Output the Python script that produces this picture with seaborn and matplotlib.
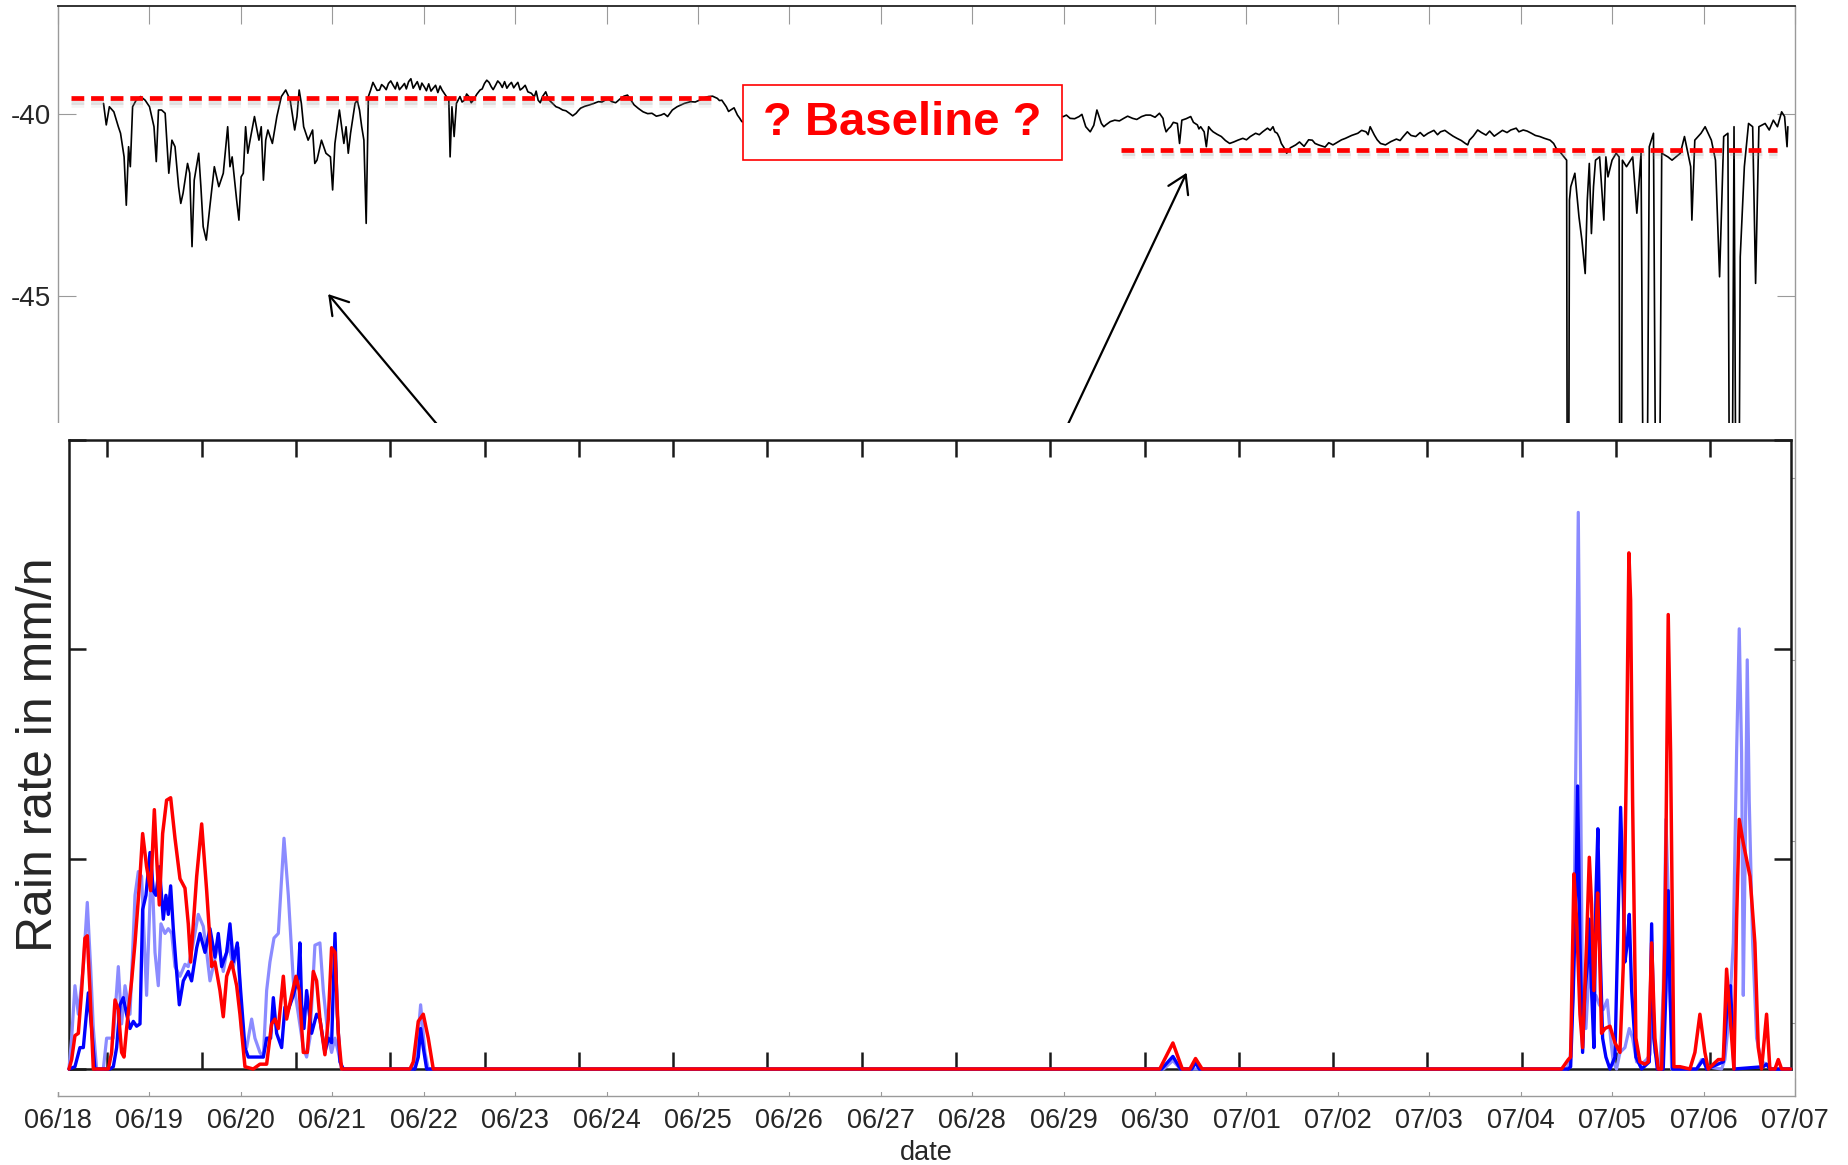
import numpy as np
import pandas as pd
import matplotlib
matplotlib.use("Agg")
import matplotlib.pyplot as plt
import matplotlib.patheffects as pe
from matplotlib.patches import Rectangle
import seaborn as sns

sns.set_style("white")
plt.rcParams["font.family"] = ["Liberation Sans", "DejaVu Sans"]

# ---------------- data ----------------
DATE_LABELS = ["06/18", "06/19", "06/20", "06/21", "06/22", "06/23", "06/24", "06/25",
               "06/26", "06/27", "06/28", "06/29", "06/30", "07/01", "07/02", "07/03",
               "07/04", "07/05", "07/06", "07/07"]

# received signal level (days since 06/18, dB)
SIGNAL_T = [
    0.498, 0.528, 0.562, 0.611, 0.660, 0.684, 0.723, 0.747, 0.772, 0.791, 0.816, 0.855,
    0.904, 0.953, 1.001, 1.050, 1.075, 1.099, 1.133, 1.172, 1.212, 1.246, 1.280, 1.319,
    1.343, 1.368, 1.417, 1.441, 1.466, 1.490, 1.539, 1.563, 1.588, 1.622, 1.661, 1.710,
    1.759, 1.808, 1.856, 1.881, 1.905, 1.954, 1.979, 2.003, 2.027, 2.052, 2.076, 2.101,
    2.149, 2.198, 2.223, 2.247, 2.272, 2.296, 2.345, 2.394, 2.443, 2.491, 2.540, 2.589,
    2.614, 2.638, 2.662, 2.687, 2.736, 2.785, 2.809, 2.833, 2.882, 2.931, 2.980, 3.004,
    3.029, 3.078, 3.127, 3.151, 3.175, 3.200, 3.249, 3.273, 3.298, 3.322, 3.346, 3.371,
    3.395, 3.420, 3.469, 3.517, 3.566, 3.615, 3.664, 3.762, 3.835, 3.908, 4.006, 4.104,
    4.201, 4.250, 4.275, 4.289, 4.309, 4.333, 4.358, 4.397, 4.446, 4.494, 4.543, 4.617,
    4.665, 4.690, 4.739, 4.788, 4.836, 4.934, 5.007, 5.081, 5.178, 5.252, 5.300, 5.335,
    5.374, 5.447, 5.520, 5.594, 5.667, 5.716, 5.813, 5.911, 5.984, 6.058, 6.155, 6.229,
    6.302, 6.400, 6.497, 6.595, 6.668, 6.772, 6.919, 7.016, 7.114, 7.212, 7.261, 7.310,
    7.358, 7.432, 7.480, 7.800, 8.300, 8.800, 9.300, 9.800, 10.300, 10.800,
    10.998, 11.071, 11.169, 11.242, 11.291, 11.364, 11.413, 11.462, 11.559, 11.657,
    11.755, 11.853, 11.950, 12.048, 12.087, 12.121, 12.170, 12.244, 12.268, 12.293,
    12.390, 12.463, 12.499, 12.537, 12.561, 12.586, 12.635, 12.725, 12.816, 12.906,
    13.042, 13.177, 13.290, 13.336, 13.381, 13.426, 13.440, 13.539, 13.720, 13.788,
    13.946, 14.082, 14.218, 14.308, 14.353, 14.399, 14.466, 14.579, 14.715, 14.760,
    14.851, 14.986, 15.122, 15.213, 15.303, 15.394, 15.439, 15.529, 15.620, 15.756,
    15.891, 16.027, 16.117, 16.208, 16.321, 16.389, 16.457, 16.502, 16.515, 16.533,
    16.547, 16.592, 16.637, 16.669, 16.705, 16.728, 16.750, 16.773, 16.796, 16.818,
    16.863, 16.909, 16.931, 16.954, 16.999, 17.044, 17.076, 17.090, 17.112, 17.157,
    17.225, 17.270, 17.316, 17.361, 17.406, 17.452, 17.497, 17.542, 17.610, 17.655,
    17.746, 17.791, 17.859, 17.872, 17.904, 17.972, 18.017, 18.085, 18.130, 18.175,
    18.220, 18.266, 18.297, 18.333, 18.370, 18.401, 18.446, 18.492, 18.537, 18.569,
    18.605, 18.673, 18.718, 18.763, 18.808, 18.854, 18.886, 18.913, 18.922,
]
SIGNAL_V = [
    -39.70, -40.29, -39.79, -39.93, -40.34, -40.52, -41.17, -42.50, -40.89, -41.44, -39.79, -39.61,
    -39.51, -39.61, -39.79, -40.34, -41.30, -39.88, -39.88, -39.97, -41.62, -40.71, -40.89, -41.99,
    -42.45, -42.17, -41.35, -41.62, -43.64, -41.81, -41.07, -41.99, -43.09, -43.46, -42.54, -41.44,
    -41.99, -41.62, -40.34, -41.44, -41.17, -42.36, -42.91, -41.72, -41.62, -40.34, -41.07, -40.71,
    -40.06, -40.71, -40.34, -41.81, -40.71, -40.43, -40.80, -40.06, -39.51, -39.33, -39.61, -40.43,
    -40.06, -39.33, -39.70, -40.34, -40.71, -40.43, -41.35, -41.26, -40.71, -41.07, -41.17, -42.08,
    -40.80, -39.88, -40.80, -40.34, -41.07, -40.52, -39.70, -39.61, -39.88, -40.34, -40.71, -43.00,
    -39.51, -39.33, -39.24, -39.33, -39.24, -39.15, -39.19, -39.24, -39.10, -39.19, -39.24, -39.28,
    -39.33, -39.51, -39.61, -41.17, -39.79, -40.61, -39.70, -39.51, -39.61, -39.51, -39.61, -39.33,
    -39.15, -39.06, -39.24, -39.19, -39.15, -39.19, -39.19, -39.28, -39.42, -39.61, -39.51, -39.38,
    -39.61, -39.79, -39.88, -39.97, -39.97, -39.83, -39.74, -39.65, -39.61, -39.65, -39.56, -39.47,
    -39.74, -39.93, -39.97, -40.02, -40.06, -39.79, -39.65, -39.61, -39.51, -39.56, -39.61, -39.79,
    -39.88, -40.02, -40.20, -40.35, -40.20, -40.30, -40.15, -40.20, -40.10, -40.05,
    -40.06, -40.11, -40.06, -40.34, -40.48, -39.88, -40.25, -40.29, -40.16, -40.11,
    -40.11, -40.06, -40.02, -39.97, -40.11, -40.48, -40.34, -40.25, -40.80, -40.16,
    -40.06, -40.29, -40.34, -40.48, -40.89, -40.34, -40.48, -40.61, -40.80, -40.71,
    -40.61, -40.48, -40.34, -40.52, -40.80, -40.98, -41.07, -40.84, -40.71, -40.84,
    -40.84, -40.66, -40.52, -40.48, -40.34, -40.57, -40.80, -40.75, -40.61, -40.48,
    -40.61, -40.52, -40.48, -40.52, -40.66, -40.80, -40.71, -40.43, -40.57, -40.52,
    -40.43, -40.43, -40.52, -40.61, -40.71, -40.94, -41.12, -41.26, -60.00, -42.36,
    -41.99, -41.62, -42.82, -43.46, -44.38, -42.36, -41.35, -43.28, -41.99, -41.26,
    -41.17, -42.91, -41.17, -41.72, -41.26, -41.07, -41.17, -60.00, -41.26, -41.44,
    -41.17, -42.72, -41.07, -60.00, -40.89, -40.52, -60.00, -41.07, -41.17, -41.26,
    -41.07, -40.61, -41.44, -42.91, -40.71, -40.52, -40.34, -40.71, -41.26, -44.47,
    -40.61, -40.52, -60.00, -40.34, -60.00, -43.92, -41.44, -40.25, -40.34, -44.65,
    -40.34, -40.25, -40.43, -40.16, -40.34, -39.93, -40.06, -40.89, -40.34,
]
# extra short-term fluctuation samples in the quieter stretches
SIGNAL_FINE_T = [
    3.445, 3.490, 3.540, 3.590, 3.640, 3.690, 3.710, 3.735, 3.790, 3.810, 3.860, 3.885,
    3.930, 3.960, 3.980, 4.030, 4.055, 4.080, 4.130, 4.155, 4.180, 4.225,
    4.420, 4.470, 4.520, 4.580, 4.640, 4.715, 4.760, 4.810, 4.860, 4.885, 4.910, 4.960,
    4.985, 5.030, 5.055, 5.110, 5.140, 5.210, 5.230, 5.275,
    5.355, 5.410, 5.480, 5.555, 5.630, 5.690, 5.760, 5.860, 5.950, 6.020, 6.100, 6.190,
    6.265, 6.350, 6.450, 6.545, 6.630, 6.720, 6.850, 6.970, 7.060, 7.160, 7.235, 7.285,
    7.335, 7.395, 7.455,
    11.030, 11.120, 11.200, 11.270, 11.330, 11.390, 11.440, 11.510, 11.610, 11.700,
    11.800, 11.900, 12.000, 12.100, 12.145, 12.200, 12.340, 12.420, 12.480,
    12.610, 12.680, 12.770, 12.860, 12.960, 13.000, 13.100, 13.140, 13.230, 13.260,
    13.310, 13.360, 13.480, 13.580, 13.630, 13.680, 13.750, 13.860, 13.900, 14.000,
    14.040, 14.150, 14.260, 14.330, 14.430, 14.520, 14.640, 14.680, 14.740, 14.800,
    14.900, 14.940, 15.050, 15.090, 15.170, 15.260, 15.350, 15.420, 15.480, 15.570,
    15.660, 15.710, 15.800, 15.850, 15.950, 15.980, 16.070, 16.160, 16.260, 16.360,
    16.420,
]
SIGNAL_FINE_V = [
    -39.12, -39.34, -39.18, -39.32, -39.08, -39.30, -39.12, -39.32, -39.15, -39.30, -39.02, -39.28,
    -39.10, -39.32, -39.14, -39.35, -39.16, -39.36, -39.20, -39.40, -39.22, -39.42,
    -39.66, -39.44, -39.68, -39.45, -39.30, -39.12, -39.32, -39.08, -39.26, -39.10, -39.28, -39.12,
    -39.27, -39.12, -39.33, -39.20, -39.38, -39.52, -39.36, -39.68,
    -39.52, -39.70, -39.82, -39.90, -40.04, -39.90, -39.78, -39.70, -39.66, -39.58, -39.68, -39.50,
    -39.60, -39.84, -39.98, -40.05, -39.98, -39.88, -39.70, -39.66, -39.55, -39.50, -39.62, -39.70,
    -39.92, -39.82, -40.10,
    -40.02, -40.12, -40.00, -40.42, -40.30, -40.08, -40.34, -40.20, -40.18, -40.05,
    -40.14, -40.02, -40.08, -40.30, -40.40, -40.22, -40.12, -40.22, -40.40,
    -40.42, -40.55, -40.72, -40.76, -40.66, -40.70, -40.52, -40.56, -40.38, -40.44,
    -40.48, -40.64, -40.92, -40.76, -40.88, -40.70, -40.80, -40.90, -40.78, -40.76,
    -40.70, -40.58, -40.44, -40.56, -40.70, -40.84, -40.68, -40.72, -40.54, -40.58,
    -40.50, -40.60, -40.44, -40.56, -40.44, -40.60, -40.72, -40.84, -40.60, -40.50,
    -40.46, -40.60, -40.44, -40.50, -40.38, -40.48, -40.46, -40.58, -40.66, -40.80,
    -41.00,
]

# baseline guesses (level, start day, end day)
BASELINE_LEVELS = [-39.56, -40.98]
BASELINE_STARTS = [0.139, 11.63]
BASELINE_ENDS = [7.195, 18.80]

# rain gauges (inset time axis in days, rate in mm/h)
RAIN_LIGHT_T = [
    -0.407, -0.379, -0.344, -0.308, -0.255, -0.213, -0.178, -0.149, -0.114, -0.043, -0.008,
    0.063, 0.116, 0.151, 0.187, 0.240, 0.293, 0.328, 0.363, 0.416, 0.469, 0.505, 0.540,
    0.568, 0.611, 0.646, 0.682, 0.717, 0.770, 0.823, 0.858, 0.911, 0.964, 1.017, 1.053,
    1.088, 1.123, 1.176, 1.229, 1.282, 1.335, 1.388, 1.424, 1.477, 1.530, 1.565, 1.618,
    1.654, 1.689, 1.724, 1.767, 1.813, 1.873, 1.919, 1.972, 2.025, 2.078, 2.113, 2.148,
    2.201, 2.254, 2.290, 2.343, 2.378, 2.414, 2.449, 2.484, 3.244, 3.280, 3.322, 3.368,
    3.403, 11.20, 11.30, 11.38, 15.475, 15.511, 15.546, 15.574, 15.599, 15.617, 15.645,
    15.680, 15.716, 15.751, 15.786, 15.822, 15.864, 15.906, 15.942, 15.970, 16.005,
    16.041, 16.094, 16.140, 16.175, 16.218, 16.271, 16.324, 16.359, 16.387, 16.412,
    16.465, 16.500, 16.529, 16.553, 16.589, 16.854, 16.907, 16.960, 17.119, 17.154,
    17.200, 17.243, 17.278, 17.306, 17.331, 17.349, 17.370, 17.391, 17.412, 17.448,
    17.490, 17.543, 17.596, 17.649, 17.851,
]
RAIN_LIGHT_V = [
    0.00, 1.47, 3.97, 2.61, 4.88, 7.94, 4.88, 1.93, 0.00, 0.00, 1.47,
    1.47, 4.88, 2.15, 3.97, 2.61, 8.28, 9.41, 9.18, 3.51, 10.09, 5.56, 3.97,
    6.92, 6.46, 6.69, 6.46, 4.88, 4.42, 4.99, 4.88, 6.01, 7.37, 6.80, 5.56,
    4.20, 4.88, 6.01, 4.65, 6.01, 4.88, 5.78, 1.70, 1.02, 2.38, 1.47, 0.79,
    0.57, 3.74, 5.10, 6.24, 6.46, 11.00, 8.28, 4.20, 2.61, 1.02, 0.57, 1.47,
    5.90, 6.01, 3.74, 1.47, 0.79, 1.47, 0.79, 0.00, 0.00, 0.79, 3.06, 0.79,
    0.00, 0.00, 0.40, 0.00, 0.00, 0.34, 3.74, 15.08, 26.53, 17.35, 2.38,
    1.93, 4.88, 3.29, 3.51, 3.06, 2.83, 3.29, 1.47, 0.34, 0.00,
    0.79, 1.02, 1.93, 1.47, 0.34, 0.23, 0.45, 0.68, 2.83, 0.79,
    0.00, 3.74, 11.90, 8.28, 0.00, 0.00, 0.45, 0.11, 0.00, 0.45,
    2.61, 6.01, 15.08, 20.98, 15.08, 3.51, 10.54, 19.50, 12.81, 6.01,
    1.47, 0.34, 0.23, 0.00, 0.00,
]

RAIN_BLUE_T = [
    -0.407, -0.344, -0.291, -0.255, -0.202, -0.167, -0.132, 0.027, 0.063, 0.098, 0.134,
    0.169, 0.204, 0.240, 0.275, 0.310, 0.346, 0.374, 0.409, 0.452, 0.487, 0.515, 0.551,
    0.593, 0.621, 0.646, 0.671, 0.699, 0.734, 0.763, 0.805, 0.858, 0.893, 0.947, 0.982,
    1.035, 1.088, 1.141, 1.176, 1.212, 1.265, 1.300, 1.335, 1.378, 1.413, 1.459, 1.494,
    1.654, 1.689, 1.731, 1.760, 1.795, 1.848, 1.883, 1.919, 1.972, 2.025, 2.042, 2.060,
    2.085, 2.113, 2.166, 2.219, 2.254, 2.307, 2.343, 2.378, 2.414, 2.438, 2.467, 2.502,
    3.262, 3.297, 3.322, 3.350, 3.386, 11.18, 11.30, 11.38, 11.50, 11.54, 11.58,
    15.493, 15.518, 15.546, 15.574, 15.592, 15.617, 15.645, 15.670, 15.694, 15.716,
    15.740, 15.765, 15.786, 15.807, 15.829, 15.857, 15.892, 15.935, 15.988, 16.016,
    16.048, 16.076, 16.094, 16.119, 16.140, 16.165, 16.210, 16.271, 16.352, 16.377,
    16.401, 16.437, 16.500, 16.529, 16.553, 16.571, 16.599, 16.854, 16.925, 16.960,
    17.137, 17.172, 17.214, 17.250, 17.561, 17.596, 17.631, 17.851,
]
RAIN_BLUE_V = [
    0.00, 0.11, 1.02, 1.02, 3.63, 1.93, 0.00, 0.00, 0.11, 1.02, 3.06,
    3.40, 2.61, 1.93, 2.27, 2.04, 2.15, 7.60, 8.28, 10.32, 8.50, 8.28, 9.64,
    7.14, 8.28, 7.37, 8.73, 6.69, 4.65, 3.06, 4.20, 4.65, 4.20, 5.78, 6.46,
    5.56, 6.69, 5.33, 6.46, 4.88, 5.56, 6.92, 5.10, 6.01, 3.74, 1.02, 0.57,
    0.57, 1.47, 1.47, 3.40, 1.70, 1.02, 2.95, 2.83, 3.51, 4.42, 6.01, 3.06,
    1.93, 3.74, 1.70, 2.61, 2.38, 0.79, 1.47, 1.25, 6.46, 2.61, 0.34, 0.00,
    0.00, 0.57, 1.93, 1.02, 0.00, 0.00, 0.60, 0.00, 0.00, 0.30, 0.00,
    0.00, 0.11, 3.74, 8.28, 13.49, 6.01, 0.79, 3.74, 4.88, 7.14,
    3.74, 1.02, 8.28, 11.45, 6.01, 1.47, 0.57, 0.00, 0.57, 6.01,
    12.47, 8.28, 5.10, 6.01, 7.37, 3.74, 0.57, 0.00, 0.34, 6.92,
    1.47, 0.00, 0.00, 3.74, 8.50, 3.74, 0.00, 0.00, 0.45, 0.00,
    0.34, 2.61, 3.97, 0.00, 0.11, 0.23, 0.00, 0.00,
]

RAIN_RED_T = [
    -0.407, -0.379, -0.344, -0.308, -0.273, -0.238, -0.213, -0.185, -0.149, 0.010, 0.045,
    0.081, 0.116, 0.151, 0.176, 0.204, 0.257, 0.293, 0.346, 0.374, 0.416, 0.459, 0.498,
    0.522, 0.551, 0.586, 0.628, 0.671, 0.717, 0.770, 0.823, 0.858, 0.883, 0.947, 1.000,
    1.053, 1.106, 1.141, 1.194, 1.229, 1.265, 1.318, 1.371, 1.406, 1.459, 1.547, 1.618,
    1.689, 1.742, 1.777, 1.813, 1.866, 1.901, 1.954, 2.000, 2.035, 2.078, 2.120, 2.184,
    2.219, 2.254, 2.307, 2.343, 2.378, 2.414, 2.449, 2.484, 3.209, 3.244, 3.297, 3.350,
    3.403, 3.456, 11.16, 11.30, 11.40, 11.48, 11.54, 11.61, 15.422, 15.440, 15.493,
    15.518, 15.553, 15.581, 15.617, 15.645, 15.687, 15.716, 15.740, 15.765, 15.786,
    15.804, 15.822, 15.846, 15.882, 15.935, 15.988, 16.041, 16.076, 16.111, 16.136,
    16.154, 16.175, 16.210, 16.253, 16.306, 16.341, 16.377, 16.412, 16.447, 16.483,
    16.518, 16.553, 16.578, 16.613, 16.677, 16.783, 16.836, 16.889, 16.942, 16.977,
    17.084, 17.137, 17.172, 17.207, 17.250, 17.278, 17.306, 17.349, 17.420, 17.472,
    17.508, 17.543, 17.596, 17.631, 17.685, 17.720, 17.755, 17.851,
]
RAIN_RED_V = [
    0.00, 0.45, 1.59, 1.70, 3.74, 6.24, 6.35, 3.74, 0.00, 0.00, 0.79,
    3.29, 2.83, 0.79, 0.57, 1.93, 4.20, 6.01, 9.18, 11.22, 9.64, 8.50, 12.36,
    10.09, 7.82, 11.22, 12.81, 12.93, 11.00, 9.07, 8.62, 6.92, 5.10, 9.18, 11.68,
    8.50, 4.88, 5.10, 3.74, 2.49, 4.42, 5.10, 3.97, 2.61, 0.11, 0.00, 0.23,
    0.23, 2.15, 2.38, 1.93, 4.42, 2.38, 3.51, 4.42, 3.74, 0.79, 0.79, 4.65,
    4.20, 2.38, 0.68, 2.38, 5.78, 5.56, 1.70, 0.00, 0.00, 0.34, 2.27, 2.61,
    1.47, 0.00, 0.00, 1.24, 0.00, 0.00, 0.50, 0.00, 0.00, 0.11, 0.45,
    0.57, 9.30, 7.14, 2.61, 1.02, 6.01, 10.09, 7.82, 3.74, 6.46,
    8.39, 6.01, 1.70, 1.93, 2.04, 1.25, 0.79, 4.88, 15.08, 24.60,
    22.34, 12.81, 1.47, 0.34, 0.23, 0.34, 6.01, 1.47, 0.00, 0.00,
    6.01, 21.66, 15.08, 0.11, 0.11, 0.00, 0.79, 2.61, 0.79, 0.00,
    0.45, 0.45, 4.76, 2.61, 0.00, 7.14, 11.90, 10.77, 9.18, 6.01,
    1.02, 0.00, 2.61, 0.00, 0.00, 0.45, 0.00, 0.00,
]

# ---------------- figure ----------------
W, H = 1848, 1165
fig = plt.figure(figsize=(W / 100, H / 100), dpi=100)
fig.patch.set_facecolor("white")


def frac(x0, y0, x1, y1):
    """pixel box (top-left origin) -> figure fraction [l, b, w, h]"""
    return [x0 / W, 1 - y1 / H, (x1 - x0) / W, (y1 - y0) / H]


GRAY = "#9a9a9a"

# background panel: signal level over the whole period
ax = fig.add_axes(frac(58, 5.7, 1795, 1096))
ax.set_zorder(0)
sig = pd.DataFrame({"day": SIGNAL_T + SIGNAL_FINE_T, "level": SIGNAL_V + SIGNAL_FINE_V})
sig = sig.sort_values("day")
sns.lineplot(data=sig, x="day", y="level", ax=ax, color="black", lw=1.2,
             estimator=None, sort=False, zorder=2)
ax.set_xlim(0, 19)
ax.set_ylim(-67.01, -37.01)
ax.set_xticks(range(20))
ax.set_xticklabels(DATE_LABELS, fontsize=19.5)
yt = [-65, -60, -55, -50, -45, -40]
ax.set_yticks(yt)
ax.set_yticklabels(["" if v < -45 else str(v) for v in yt], fontsize=20)
ax.tick_params(axis="both", direction="in", length=13, width=0.8, color=GRAY,
               top=True, right=True, bottom=True, left=True)
ax.tick_params(axis="x", pad=9)
ax.tick_params(axis="y", pad=5)
ax.set_xlabel("date", fontsize=19.5, labelpad=4)
ax.set_ylabel("")
for side in ["left", "right", "bottom"]:
    ax.spines[side].set_color(GRAY)
    ax.spines[side].set_linewidth(1.0)
ax.spines["top"].set_color("#222222")
ax.spines["top"].set_linewidth(1.3)

shadow = [pe.SimpleLineShadow(offset=(0.5, -2.5), shadow_color="#8a8a8a", alpha=0.22),
          pe.SimpleLineShadow(offset=(0.5, -4.5), shadow_color="#aaaaaa", alpha=0.12),
          pe.Normal()]
for lvl, x0, x1 in zip(BASELINE_LEVELS, BASELINE_STARTS, BASELINE_ENDS):
    ax.plot([x0, x1], [lvl, lvl], color="#ff0000", lw=3.4,
            linestyle=(0, (2.7, 1.45)), zorder=4, path_effects=shadow,
            solid_capstyle="butt", dash_capstyle="butt")

# label box
ax.add_patch(Rectangle((7.497, -41.258), 10.977 - 7.497, -39.194 + 41.258,
                       facecolor="white", edgecolor="#ff0000", lw=1.2, zorder=5))
ax.text(9.237, -40.23, "? Baseline ?", color="#ff0000", fontsize=34,
        fontweight="bold", ha="center", va="center", zorder=6)

arrow_kw = dict(arrowstyle="->,head_length=0.45,head_width=0.28", lw=1.6,
                color="black", mutation_scale=28, shrinkA=0, shrinkB=0)
ax.annotate("", xy=(2.955, -44.945), xytext=(4.153, -48.55), arrowprops=arrow_kw,
            annotation_clip=False, zorder=3)
ax.annotate("", xy=(12.345, -41.607), xytext=(11.043, -48.55), arrowprops=arrow_kw,
            annotation_clip=False, zorder=3)

# white backing for the rain-rate panel
cover = fig.add_axes(frac(0, 423, 1792, 1092))
cover.set_zorder(1)
cover.set_facecolor("white")
cover.set_xticks([])
cover.set_yticks([])
for s in cover.spines.values():
    s.set_visible(False)

# rain-rate panel
ai = fig.add_axes(frac(69, 439.6, 1791, 1069))
ai.set_zorder(2)
ai.set_facecolor("white")
series = [
    (RAIN_LIGHT_T, RAIN_LIGHT_V, "#8b8bff", 2.3),
    (RAIN_BLUE_T, RAIN_BLUE_V, "#0000ff", 2.4),
    (RAIN_RED_T, RAIN_RED_V, "#ff0000", 2.5),
]
for k, (tt, vv, col, lw) in enumerate(series):
    sns.lineplot(x=tt, y=vv, ax=ai, color=col, lw=lw, estimator=None, sort=False,
                 zorder=3 + k, clip_on=False)
ai.set_xlim(-0.407, 17.855)
ai.set_ylim(0, 30)
ai.set_xticks(range(18))
ai.set_yticks([0, 10, 20, 30])
ai.set_xticklabels([])
ai.set_yticklabels([])
ai.tick_params(axis="both", direction="in", length=12, width=1.8, color="#1a1a1a",
               top=True, right=True, bottom=True, left=True)
for s in ai.spines.values():
    s.set_color("#1a1a1a")
    s.set_linewidth(1.8)
ai.set_xlabel("")
ai.set_ylabel("Rain rate in mm/n", fontsize=36)
ai.yaxis.set_label_coords(-0.004, 0.5)

fig.savefig("out.png", dpi=100, facecolor="white")
